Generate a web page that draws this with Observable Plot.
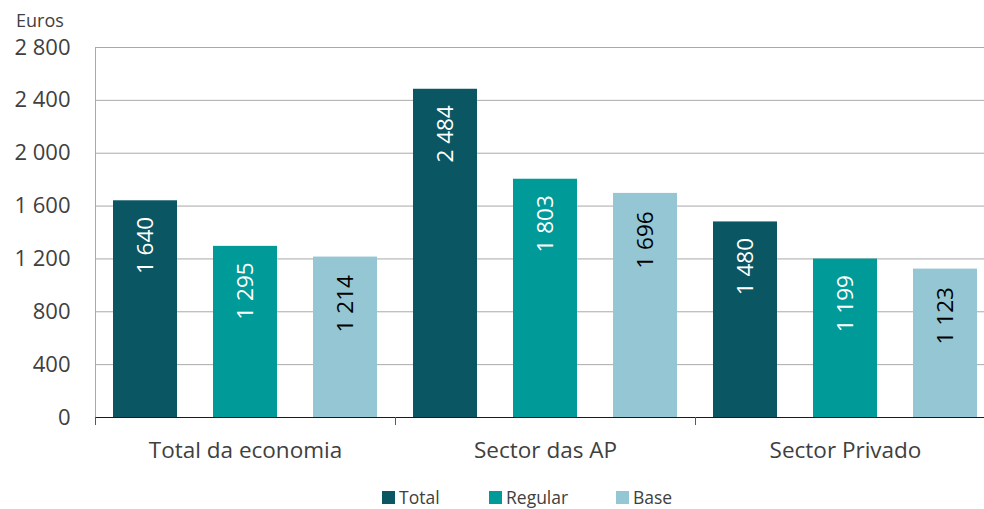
<!DOCTYPE html>
<html>
<head>
<meta charset="utf-8">
<script src="https://cdn.jsdelivr.net/npm/d3@7"></script>
<script src="https://cdn.jsdelivr.net/npm/@observablehq/plot@0.6"></script>
<style>
  html, body { margin: 0; padding: 0; background: #fff; overflow: hidden; }
  #wrap { position: relative; width: 984px; height: 509px; overflow: hidden; font-family: "Open Sans", sans-serif; color: #404040; }
  #unit { position: absolute; left: 16px; top: 8px; font-size: 18px; line-height: 24px; }
  #legend { position: absolute; top: 486px; left: 0; width: 984px; height: 22px; font-size: 17.5px; line-height: 22px; color: #404040; }
  .item { position: absolute; top: 0; display: flex; align-items: center; height: 22px; }
  .sw { width: 13px; height: 13px; margin-right: 4px; }
  #chart { position: absolute; left: 0; top: 0; width: 995px; }
  #chart svg { max-width: none !important; }
</style>
</head>
<body>
<div id="wrap">
  <div id="chart"></div>
  <div id="unit">Euros</div>
  <div id="legend"></div>
</div>
<script>
const groups = ["Total da economia", "Sector das AP", "Sector Privado"];
const series = ["Total", "Regular", "Base"];
const totalValues = [1640, 2484, 1480];
const regularValues = [1295, 1803, 1199];
const baseValues = [1214, 1696, 1123];
const yTicks = [0, 400, 800, 1200, 1600, 2000, 2400, 2800];
const colors = ["#0b5663", "#009a99", "#94c6d3"];
const labelColors = ["#ffffff", "#ffffff", "#000000"];

const valuesBySeries = [totalValues, regularValues, baseValues];
const data = [];
groups.forEach((g, gi) => {
  series.forEach((s, si) => {
    data.push({group: g, series: s, value: valuesBySeries[si][gi]});
  });
});

const fmt = d => d3.format(",")(d).replace(/,/g, " ");

const chart = Plot.plot({
  width: 995,
  height: 470,
  marginLeft: 95,
  marginRight: 0,
  marginTop: 47,
  marginBottom: 53,
  style: {fontFamily: "'Open Sans', sans-serif", color: "#404040", background: "transparent", maxWidth: "none"},
  fx: {domain: groups, padding: 0, label: null},
  x: {domain: series, paddingInner: 0.36, paddingOuter: 0.18, axis: null},
  y: {domain: [0, 2800], label: null},
  color: {domain: series, range: colors},
  marks: [
    Plot.gridY(yTicks.filter(t => t > 0), {stroke: "#a9a9a9", strokeOpacity: 1}),
    Plot.frame({anchor: "left", stroke: "#a9a9a9", facet: "super"}),
    Plot.barY(data, {fx: "group", x: "series", y: "value", fill: "series", inset: 0}),
    Plot.ruleY([0], {stroke: "#1a1a1a", strokeWidth: 1.2}),
    Plot.text(data, {
      filter: d => d.series !== "Base",
      fx: "group", x: "series", y: "value", text: d => fmt(d.value),
      rotate: -90, textAnchor: "end", dy: 16, fill: labelColors[0], fontSize: 22.5
    }),
    Plot.text(data, {
      filter: d => d.series === "Base",
      fx: "group", x: "series", y: "value", text: d => fmt(d.value),
      rotate: -90, textAnchor: "end", dy: 18, fill: labelColors[2], fontSize: 22.5
    }),
    Plot.axisY(yTicks, {tickSize: 0, tickPadding: 25, fontSize: 22, tickFormat: fmt, label: null}),
    Plot.axisFx({anchor: "bottom", tickSize: 0, tickPadding: 25, fontSize: 22.5, label: null}),
    Plot.axisFx({anchor: "bottom", tickSize: 8, dx: -150, tickFormat: () => "", label: null, stroke: "#595959"})
  ]
});
document.getElementById("chart").appendChild(chart);

const legend = document.getElementById("legend");
const lefts = [382, 489, 616];
series.forEach((s, i) => {
  const it = document.createElement("div");
  it.className = "item";
  it.style.left = lefts[i] + "px";
  const sw = document.createElement("div");
  sw.className = "sw";
  sw.style.background = colors[i];
  const tx = document.createElement("span");
  tx.textContent = s;
  it.appendChild(sw);
  it.appendChild(tx);
  legend.appendChild(it);
});
</script>
</body>
</html>
